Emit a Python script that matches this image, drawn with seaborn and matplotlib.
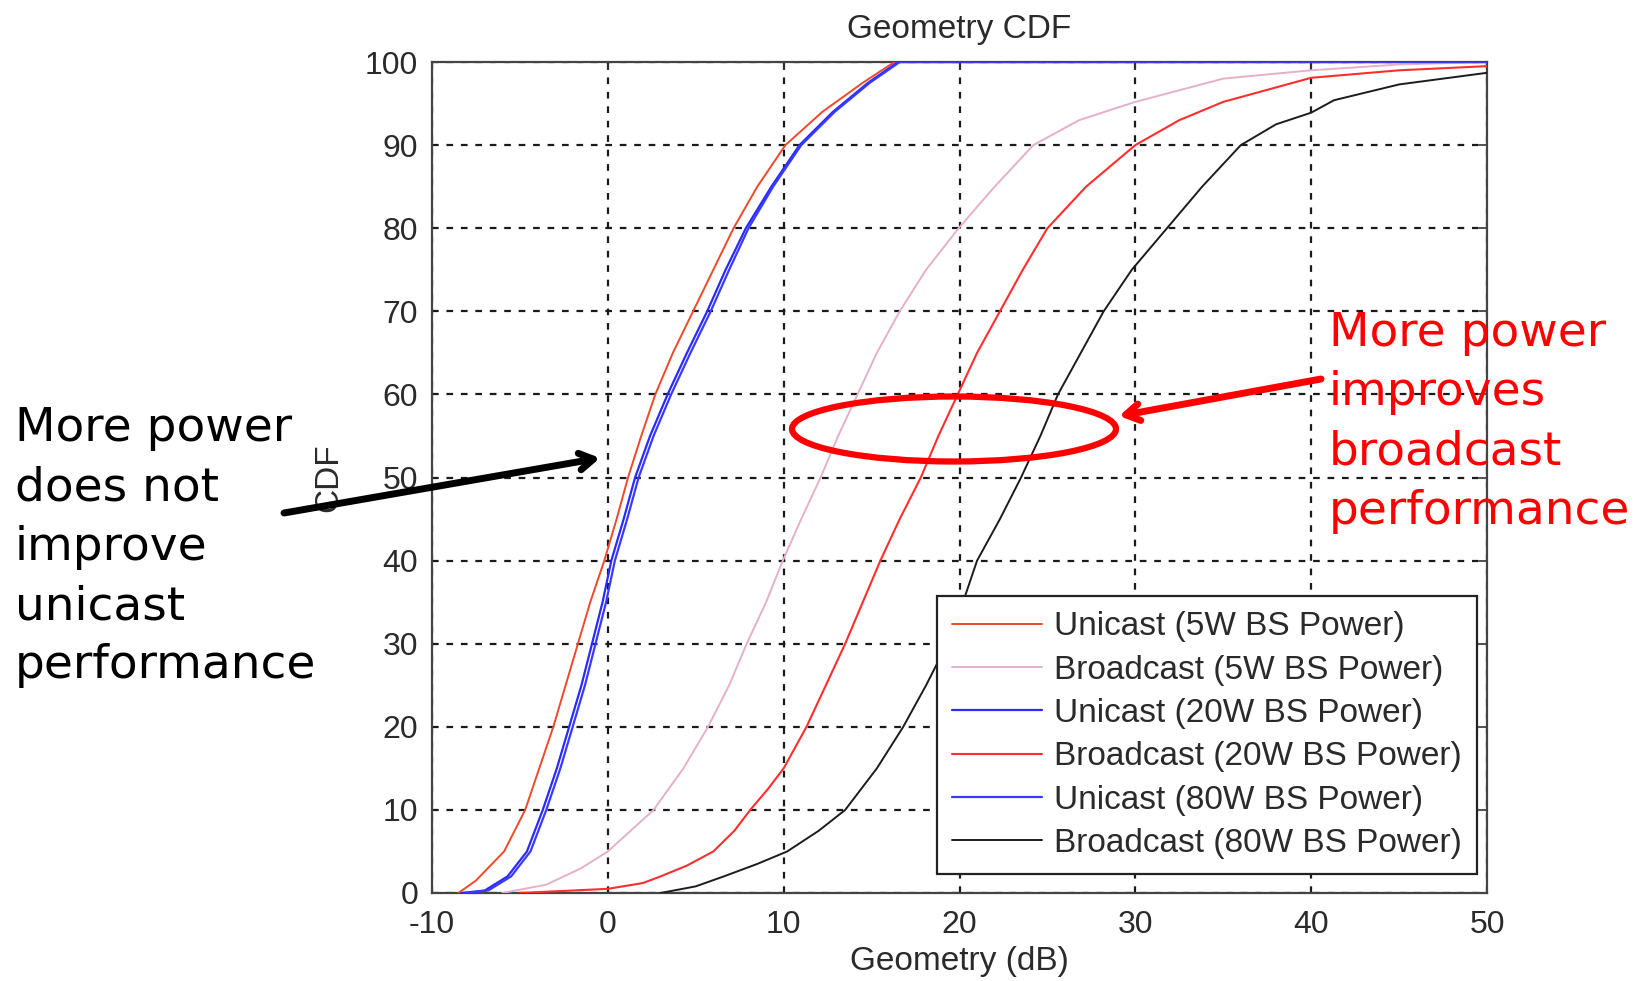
import numpy as np
import pandas as pd
import matplotlib
matplotlib.use("Agg")
import matplotlib.pyplot as plt
import seaborn as sns
from matplotlib.patches import Ellipse

# ---------------- data ----------------
series_labels = [
    "Unicast (5W BS Power)",
    "Broadcast (5W BS Power)",
    "Unicast (20W BS Power)",
    "Broadcast (20W BS Power)",
    "Unicast (80W BS Power)",
    "Broadcast (80W BS Power)",
]

uni5_x = [-8.5, -7.5, -5.9, -4.7, -3.9, -3.1, -2.4, -1.7, -1.0, -0.2, 0.5, 1.15, 1.9, 2.7, 3.7,
          4.85, 6.0, 7.15, 8.5, 10.1, 12.2, 14.5, 16.3, 50]
uni5_y = [0, 1.5, 5, 10, 15, 20, 25, 30, 35, 40, 45, 50, 55, 60, 65,
          70, 75, 80, 85, 90, 94, 97.5, 100, 100]

bc5_x = [-6, -3.5, -1.5, 0, 1.3, 2.6, 4.3, 5.7, 6.9, 7.9, 9.0, 9.95, 11.0, 12.1, 13.1, 14.2,
         15.3, 16.6, 18.1, 19.95, 22.0, 24.2, 26.8, 30, 35, 40, 45, 50]
bc5_y = [0, 1, 3, 5, 7.5, 10, 15, 20, 25, 30, 35, 40, 45, 50, 55, 60,
         65, 70, 75, 80, 85, 90, 93, 95.2, 98, 99, 99.7, 100]

uni20_x = [-8.3, -7.0, -5.7, -4.6, -3.7, -2.9, -2.2, -1.5, -0.9, -0.3, 0.2, 0.9, 1.55, 2.4, 3.4,
           4.5, 5.65, 6.7, 7.85, 9.3, 10.9, 12.8, 14.8, 16.5, 50]
uni20_y = [0, 0.3, 2, 5, 10, 15, 20, 25, 30, 35, 40, 45, 50, 55, 60,
           65, 70, 75, 80, 85, 90, 94, 97.5, 100, 100]

bc20_x = [-5, 0, 2, 3, 4.5, 6, 7.2, 8.1, 9.1, 10, 11.3, 12.4, 13.5, 14.5, 15.5, 16.6, 17.8,
          18.8, 19.9, 21.0, 22.3, 23.6, 25, 27.2, 30, 32.5, 35, 40, 45, 50]
bc20_y = [0, 0.5, 1.2, 2, 3.3, 5, 7.5, 10, 12.5, 15, 20, 25, 30, 35, 40, 45, 50,
          55, 60, 65, 70, 75, 80, 85, 90, 93, 95.2, 98.1, 99, 99.5]

uni80_x = [-8.1, -6.8, -5.5, -4.4, -3.5, -2.7, -2.0, -1.3, -0.7, -0.1, 0.4, 1.1, 1.75, 2.6, 3.6,
           4.7, 5.85, 6.9, 8.0, 9.4, 11.0, 12.9, 14.9, 16.6, 50]
uni80_y = [0, 0.3, 2, 5, 10, 15, 20, 25, 30, 35, 40, 45, 50, 55, 60,
           65, 70, 75, 80, 85, 90, 94, 97.5, 100, 100]

bc80_x = [3, 5, 6.6, 8.5, 10.2, 12, 13.5, 15.3, 16.8, 18.1, 19.3, 20.2, 21.0, 22.3, 23.5, 24.6,
          25.6, 26.9, 28.2, 29.8, 31.8, 33.8, 36, 38, 40, 41.3, 45, 50]
bc80_y = [0, 0.8, 2, 3.5, 5, 7.5, 10, 15, 20, 25, 30, 35, 40, 45, 50, 55,
          60, 65, 70, 75, 80, 85, 90, 92.5, 93.9, 95.4, 97.3, 98.7]

x_ticks = [-10, 0, 10, 20, 30, 40, 50]
y_ticks = [0, 10, 20, 30, 40, 50, 60, 70, 80, 90, 100]

# ---------------- styling ----------------
colors = ["#f0482a", "#e6b0c8", "#2a2aff", "#ff2e2e", "#3a3aff", "#1c1c1c"]
widths = [1.4, 1.4, 1.6, 1.5, 1.6, 1.4]

sns.set_style("white")
plt.rcParams["font.family"] = ["Liberation Sans", "DejaVu Sans"]

fig = plt.figure(figsize=(16.51, 9.81), dpi=100)
ax = fig.add_axes([432 / 1651, 88 / 981, 1055 / 1651, 831 / 981])

all_x = [uni5_x, bc5_x, uni20_x, bc20_x, uni80_x, bc80_x]
all_y = [uni5_y, bc5_y, uni20_y, bc20_y, uni80_y, bc80_y]
frames = []
for lab, xs, ys in zip(series_labels, all_x, all_y):
    frames.append(pd.DataFrame({"x": xs, "cdf": ys, "series": lab}))
df = pd.concat(frames, ignore_index=True)

for lab, col, lw in zip(series_labels, colors, widths):
    sub = df[df["series"] == lab]
    sns.lineplot(data=sub, x="x", y="cdf", color=col, linewidth=lw, sort=False,
                 estimator=None, label=lab, ax=ax, zorder=3)

ax.set_xlim(-10, 50)
ax.set_ylim(0, 100)
ax.set_xticks(x_ticks)
ax.set_yticks(y_ticks)
ax.set_xticklabels([str(v) for v in x_ticks])
ax.set_yticklabels([str(v) for v in y_ticks])
ax.set_axisbelow(True)
ax.grid(True, color="#1a1a1a", linestyle=(0, (3, 3.5)), linewidth=1.6)
ax.tick_params(direction="in", length=6, width=1.2, color="#333333", labelsize=23,
               labelcolor="#2a2a2a", top=True, right=True)
ax.tick_params(axis="x", pad=12)
ax.tick_params(axis="y", pad=10)
for s in ax.spines.values():
    s.set_color("#444444")
    s.set_linewidth(1.6)
    s.set_visible(True)

ax.set_title("Geometry CDF", fontsize=24, color="#2a2a2a", pad=17)
ax.set_xlabel("Geometry (dB)", fontsize=24, color="#2a2a2a")
ax.set_ylabel("CDF", fontsize=24, color="#2a2a2a")
ax.xaxis.set_label_coords(0.5, -0.064)
ax.yaxis.set_label_coords(-0.083, 0.5)

leg = ax.legend(loc="lower right", bbox_to_anchor=(0.9905, 0.0229), borderaxespad=0,
                fontsize=24, frameon=True, fancybox=False, framealpha=1,
                edgecolor="#222222", handlelength=2.7, handletextpad=0.35,
                labelspacing=0.37, borderpad=0.45, labelcolor="#2a2a2a")
leg.get_frame().set_linewidth(1.6)
leg.set_zorder(5)

# ---------------- annotations ----------------
fig.text(15 / 1651, 1 - 406 / 981,
         "More power\ndoes not\nimprove\nunicast\nperformance",
         fontsize=33.8, color="black", va="top", ha="left", linespacing=1.41,
         family="DejaVu Sans")
fig.text(1329 / 1651, 1 - 311 / 981,
         "More power\nimproves\nbroadcast\nperformance",
         fontsize=33.8, color="#ff0000", va="top", ha="left", linespacing=1.41,
         family="DejaVu Sans")

ell = Ellipse((954 / 1651, 1 - 429 / 981), 324 / 1651, 65 / 981,
              transform=fig.transFigure, fill=False, edgecolor="#ff0000", linewidth=4.5,
              zorder=10)
fig.add_artist(ell)

ax.annotate("", xy=(600 / 1651, 1 - 458 / 981), xytext=(284 / 1651, 1 - 513 / 981),
            xycoords="figure fraction", textcoords="figure fraction",
            arrowprops=dict(arrowstyle="->,head_length=1.0,head_width=0.6",
                            color="black", lw=5, shrinkA=0, shrinkB=0),
            annotation_clip=False, zorder=10)
ax.annotate("", xy=(1119 / 1651, 1 - 416 / 981), xytext=(1321 / 1651, 1 - 379 / 981),
            xycoords="figure fraction", textcoords="figure fraction",
            arrowprops=dict(arrowstyle="->,head_length=1.0,head_width=0.6",
                            color="#ff0000", lw=5, shrinkA=0, shrinkB=0),
            annotation_clip=False, zorder=10)

fig.savefig("out.png", dpi=100)
